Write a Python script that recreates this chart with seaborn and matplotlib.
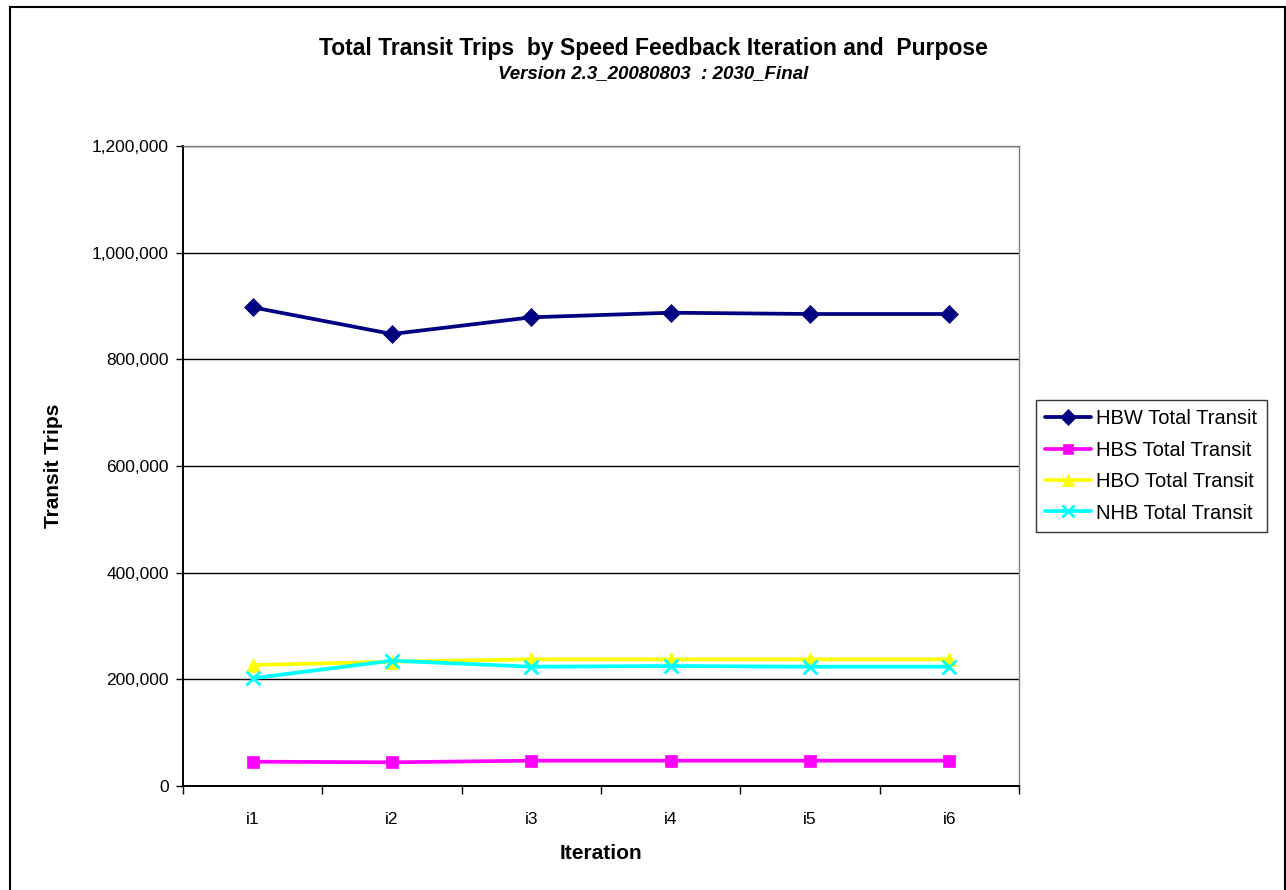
import matplotlib
matplotlib.use("Agg")
import matplotlib.pyplot as plt
import seaborn as sns
import pandas as pd
from matplotlib.ticker import FuncFormatter, FixedLocator
from matplotlib.patches import Rectangle

# Iterations and transit trips per purpose
iterations = ["i1", "i2", "i3", "i4", "i5", "i6"]
hbw = [897500, 847500, 878800, 887400, 885000, 885000]
hbs = [45600, 44400, 47500, 47500, 47500, 47500]
hbo = [226900, 233000, 237500, 237500, 237500, 237500]
nhb = [202000, 235000, 223700, 225000, 223700, 223700]

series_names = ["HBW Total Transit", "HBS Total Transit", "HBO Total Transit", "NHB Total Transit"]
series_values = [hbw, hbs, hbo, nhb]
y_ticks = [0, 200000, 400000, 600000, 800000, 1000000, 1200000]

frames = []
for name, vals in zip(series_names, series_values):
    frames.append(pd.DataFrame({"Iteration": iterations, "Trips": vals, "Purpose": name}))
df = pd.concat(frames, ignore_index=True)

sns.set_theme(style="white")
plt.rcParams["font.family"] = ["Liberation Sans", "DejaVu Sans"]
plt.rcParams["text.color"] = "black"
plt.rcParams["axes.labelcolor"] = "black"
plt.rcParams["xtick.color"] = "black"
plt.rcParams["ytick.color"] = "black"

fig = plt.figure(figsize=(12.86, 8.90), dpi=100)
W, H = 1286, 890
ax = fig.add_axes([183 / W, 1 - 786 / H, (1019 - 183) / W, (786 - 146) / H])

colors = ["#000080", "#FF00FF", "#FFFF00", "#00FFFF"]
marker_list = ["D", "s", "^", "X"]
palette = dict(zip(series_names, colors))
markers = dict(zip(series_names, marker_list))

sns.lineplot(data=df, x="Iteration", y="Trips", hue="Purpose", style="Purpose",
             palette=palette, markers=markers, dashes=False, linewidth=2.7,
             sort=False, ax=ax, legend="full")

# Marker styling per series: filled shapes, and a thin "x" for NHB
style_map = {
    "#000080": ("D", 9, 0.5),
    "#ff00ff": ("s", 9, 0.5),
    "#ffff00": ("^", 10, 0.5),
    "#00ffff": ("x", 10, 2.0),
}


def restyle(line, legend_handle=False):
    c = matplotlib.colors.to_hex(line.get_color()).lower()
    if c in style_map:
        m, s, ew = style_map[c]
        line.set_marker(m)
        line.set_markersize(s * (0.85 if legend_handle else 1.0))
        line.set_markeredgewidth(ew)
        line.set_markeredgecolor(c)
        line.set_markerfacecolor(c)


for line in ax.lines:
    restyle(line)

ax.set_ylim(0, 1200000)
ax.set_xlim(-0.5, len(iterations) - 0.5)
ax.yaxis.set_major_locator(FixedLocator(y_ticks))
ax.yaxis.set_major_formatter(FuncFormatter(lambda v, p: f"{int(v):,}"))
ax.grid(axis="y", color="black", linewidth=1.0)
ax.set_axisbelow(True)

ax.xaxis.set_minor_locator(FixedLocator([k - 0.5 for k in range(len(iterations) + 1)]))
ax.tick_params(axis="x", which="major", length=0, labelsize=12.5, pad=19)
ax.tick_params(axis="x", which="minor", length=6, width=1, direction="out", bottom=True)
ax.tick_params(axis="y", which="major", length=5, width=1, direction="out", left=True,
               labelsize=12.5, pad=5)

for side in ("left", "bottom"):
    ax.spines[side].set_color("black")
    ax.spines[side].set_linewidth(1.4)
for side in ("top", "right"):
    ax.spines[side].set_color("#808080")
    ax.spines[side].set_linewidth(1.0)

ax.set_xlabel("Iteration", fontsize=15, fontweight="bold", labelpad=12)
ax.set_ylabel("Transit Trips", fontsize=15, fontweight="bold", labelpad=21)

handles, labels = ax.get_legend_handles_labels()
ax.get_legend().remove()
for h in handles:
    restyle(h, legend_handle=True)
leg = fig.legend(handles, labels, loc="upper left",
                 bbox_to_anchor=(1036 / W, 1 - 400 / H), frameon=True, fancybox=False,
                 edgecolor="black", fontsize=14.5, handlelength=2.3, handletextpad=0.25,
                 labelspacing=0.62, borderpad=0.45, borderaxespad=0)
leg.get_frame().set_linewidth(1.0)

fig.text(653 / W, 1 - 48 / H, "Total Transit Trips  by Speed Feedback Iteration and  Purpose",
         ha="center", va="center", fontsize=16.5, fontweight="bold")
fig.text(653 / W, 1 - 74 / H, "Version 2.3_20080803  : 2030_Final",
         ha="center", va="center", fontsize=13.5, fontweight="bold", style="italic")

# Chart frame (runs past the lower edge of the canvas)
fig.patches.append(Rectangle((10 / W, -0.05), (1285 - 10) / W, 1.05 - 7 / H,
                             transform=fig.transFigure, fill=False,
                             edgecolor="black", linewidth=1.5))

fig.savefig("out.png", dpi=100)
